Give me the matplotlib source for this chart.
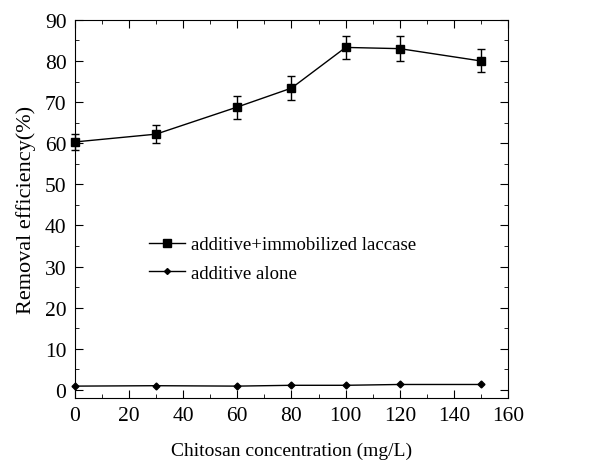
import matplotlib
matplotlib.use('Agg')
import matplotlib.pyplot as plt
from matplotlib.lines import Line2D
from matplotlib.ticker import MultipleLocator

plt.rcParams['font.family'] = ['Liberation Serif', 'DejaVu Serif']

conc = [0, 30, 60, 80, 100, 120, 150]
immobilized = [60.3, 62.2, 68.8, 73.4, 83.3, 83.0, 80.0]
immobilized_err = [2.0, 2.2, 2.8, 3.0, 2.8, 3.1, 2.8]
alone = [0.9, 1.0, 0.9, 1.1, 1.1, 1.3, 1.3]
labels = ['additive+immobilized laccase', 'additive alone']

fig = plt.figure(figsize=(6.13, 4.64), dpi=100)
ax = fig.add_axes([0.122, 0.140, 0.707, 0.815])

ax.errorbar(conc, immobilized, yerr=immobilized_err, color='black', marker='s', markersize=6,
            linewidth=1, elinewidth=1, capsize=3, capthick=1, clip_on=False, zorder=3)
ax.plot(conc, alone, color='black', marker='D', markersize=3.5, linewidth=1,
        clip_on=False, zorder=3)

ax.set_xlim(0, 160)
ax.set_ylim(-2, 90)
ax.xaxis.set_major_locator(MultipleLocator(20))
ax.xaxis.set_minor_locator(MultipleLocator(10))
ax.yaxis.set_major_locator(MultipleLocator(10))
ax.yaxis.set_minor_locator(MultipleLocator(5))
ax.tick_params(which='both', direction='in', top=True, right=True, labelsize=15.5, pad=6)
ax.tick_params(which='major', length=6)
ax.tick_params(which='minor', length=3)

ax.set_xlabel('Chitosan concentration (mg/L)', fontsize=14, labelpad=12)
ax.set_ylabel('Removal efficiency(%)', fontsize=16, labelpad=6)

handles = [Line2D([], [], color='black', marker='s', markersize=5.5, linewidth=1),
           Line2D([], [], color='black', marker='D', markersize=3, linewidth=1)]
ax.legend(handles, labels, loc='upper left', bbox_to_anchor=(0.155, 0.448), frameon=False,
          fontsize=13.5, handlelength=1.9, handletextpad=0.3, labelspacing=0.6,
          borderaxespad=0)

fig.savefig('out.png', dpi=100)
